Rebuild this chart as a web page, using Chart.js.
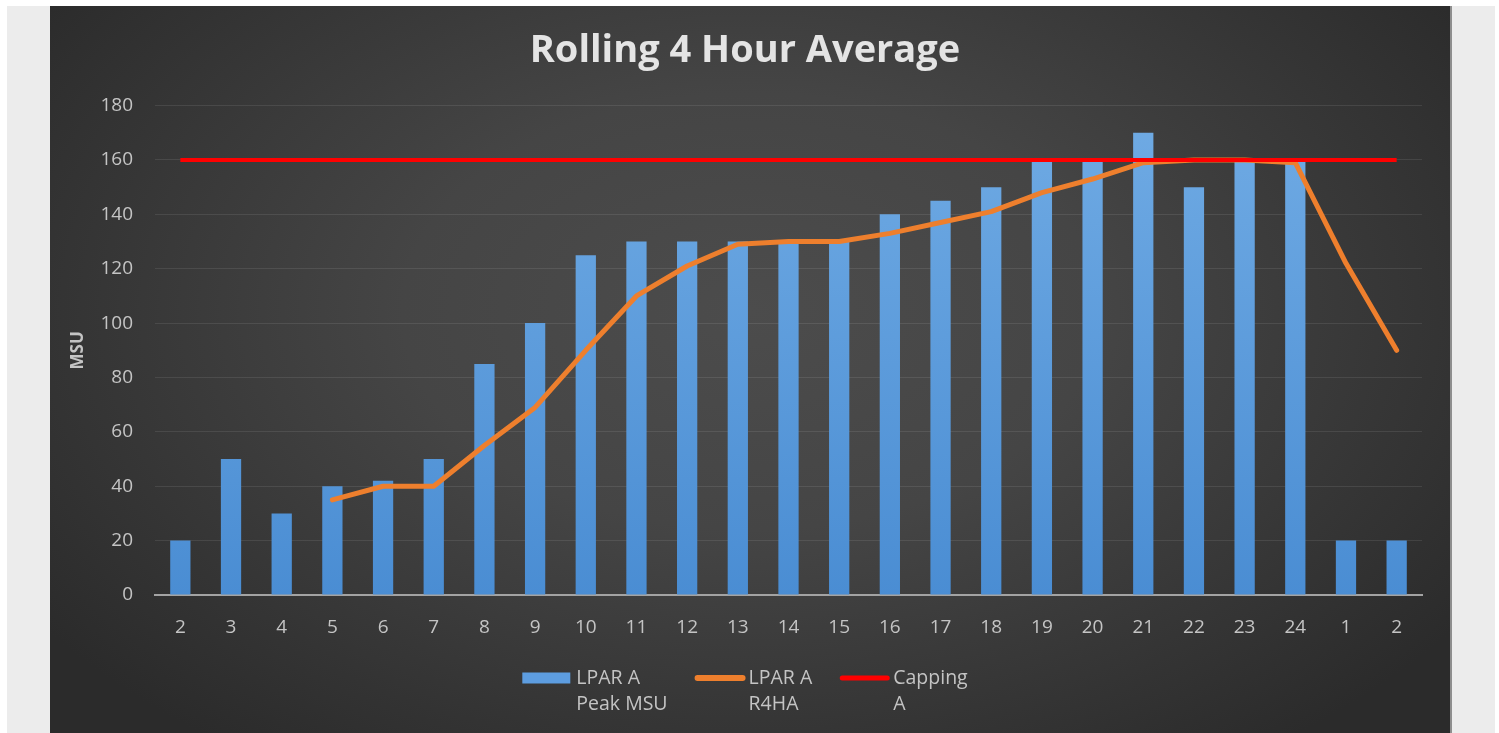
<!DOCTYPE html>
<html>
<head>
<meta charset="utf-8">
<script src="https://cdn.jsdelivr.net/npm/chart.js@4.4.0/dist/chart.umd.min.js"></script>
<style>
html,body{margin:0;padding:0;background:#fff;width:1499px;height:733px;overflow:hidden}
#outer{position:absolute;left:7px;top:6px;width:1488px;height:727px;background:#ececec}
#panel{position:absolute;left:43px;top:0;width:1400px;height:727px;
  background:radial-gradient(ellipse 62% 75% at 50% 42%, #4c4c4c 0%, #454545 40%, #2b2b2b 100%);
  border-right:2px solid #8e8e8e}
#panel canvas{position:absolute;left:0;top:0}
</style>
</head>
<body>
<div id="outer"><div id="panel"><canvas id="c" width="1400" height="727"></canvas></div></div>
<script>
const categories = ['2','3','4','5','6','7','8','9','10','11','12','13','14','15','16','17','18','19','20','21','22','23','24','1','2'];
const peakMSU = [20,50,30,40,42,50,85,100,125,130,130,130,130,130,140,145,150,160,160,170,150,160,160,20,20];
const r4ha = [null,null,null,35,40,40,55,69,90,110,121,129,130,130,133,137,141,148,153,159,160,160,159,122,90];
const capping = [160,160,160,160,160,160,160,160,160,160,160,160,160,160,160,160,160,160,160,160,160,160,160,160,160];
const yTicks = [0,20,40,60,80,100,120,140,160,180];
const titleText = 'Rolling 4 Hour Average';
const yAxisTitle = 'MSU';
const legendLabels = [['LPAR A','Peak MSU'],['LPAR A','R4HA'],['Capping','A']];

const FONT = "'Open Sans', 'DejaVu Sans', sans-serif";
const TXT = '#c4c4c4';

const legendPlugin = {
  id: 'customLegend',
  afterDraw(chart) {
    const ctx = chart.ctx;
    const ds = chart.data.datasets;
    ctx.save();
    ctx.font = "19.5px " + FONT;
    const sw = 48, gapTxt = 6, gapItem = 27;
    const widths = legendLabels.map(l => Math.max(...l.map(t => ctx.measureText(t).width)));
    const total = widths.reduce((a, w) => a + sw + gapTxt + w, 0) + gapItem * (widths.length - 1);
    let x = chart.width / 2 - 5 - total / 2;
    const y1 = chart.chartArea.bottom + 83, y2 = y1 + 26;
    legendLabels.forEach((lab, i) => {
      const d = ds[i];
      if (d.type === 'line') {
        ctx.strokeStyle = d.borderColor;
        ctx.lineWidth = d.borderWidth + 1;
        ctx.lineCap = 'round';
        ctx.beginPath(); ctx.moveTo(x + 3, y1); ctx.lineTo(x + sw, y1); ctx.stroke();
      } else {
        ctx.fillStyle = '#5d9de0';
        ctx.fillRect(x, y1 - 5.5, sw, 11);
      }
      ctx.fillStyle = TXT;
      ctx.textBaseline = 'middle';
      ctx.textAlign = 'left';
      ctx.fillText(lab[0], x + sw + gapTxt, y1);
      ctx.fillText(lab[1], x + sw + gapTxt, y2);
      x += sw + gapTxt + widths[i] + gapItem;
    });
    ctx.restore();
  }
};

function barGradient(context) {
  const chart = context.chart;
  const area = chart.chartArea;
  if (!area) return '#5b9bd5';
  const g = chart.ctx.createLinearGradient(0, area.top, 0, area.bottom);
  g.addColorStop(0, '#70abe4');
  g.addColorStop(1, '#4a8dd3');
  return g;
}

new Chart(document.getElementById('c'), {
  type: 'bar',
  data: {
    labels: categories,
    datasets: [
      { type: 'bar', label: legendLabels[0].join(' '), data: peakMSU, backgroundColor: barGradient,
        barPercentage: 0.4, categoryPercentage: 1.0, order: 2 },
      { type: 'line', label: legendLabels[1].join(' '), data: r4ha, borderColor: '#ee7f2d', borderWidth: 5,
        pointRadius: 0, tension: 0, borderCapStyle: 'round', borderJoinStyle: 'round', spanGaps: false, order: 1 },
      { type: 'line', label: legendLabels[2].join(' '), data: capping, borderColor: '#ff0000', borderWidth: 4,
        pointRadius: 0, tension: 0, order: 0 }
    ]
  },
  options: {
    responsive: false,
    animation: false,
    layout: { padding: { left: 18, right: 28, top: 0, bottom: 93 } },
    plugins: {
      legend: { display: false },
      tooltip: { enabled: false },
      title: {
        display: true, text: titleText, color: '#e4e4e4',
        font: { family: FONT, size: 38, weight: 'bold' },
        padding: { top: 22, bottom: 32 }
      }
    },
    scales: {
      x: {
        offset: true,
        grid: { display: false, drawTicks: false },
        border: { display: true, color: '#a3a3a3', width: 2 },
        ticks: { color: TXT, font: { family: FONT, size: 19 }, padding: 21, maxRotation: 0, autoSkip: false },
        afterFit(scale) { scale.height = 45; }
      },
      y: {
        min: 0, max: 180,
        afterBuildTicks(scale) { scale.ticks = yTicks.map(v => ({ value: v })); },
        grid: { color: 'rgba(255,255,255,0.09)', lineWidth: 1, drawTicks: false },
        border: { display: false },
        ticks: { color: TXT, font: { family: FONT, size: 19 }, padding: 22 },
        title: { display: true, text: yAxisTitle, color: TXT, font: { family: FONT, size: 17, weight: 'bold' }, padding: 0 },
        afterFit(scale) { scale.width = 87; }
      }
    }
  },
  plugins: [legendPlugin]
});
</script>
</body>
</html>
